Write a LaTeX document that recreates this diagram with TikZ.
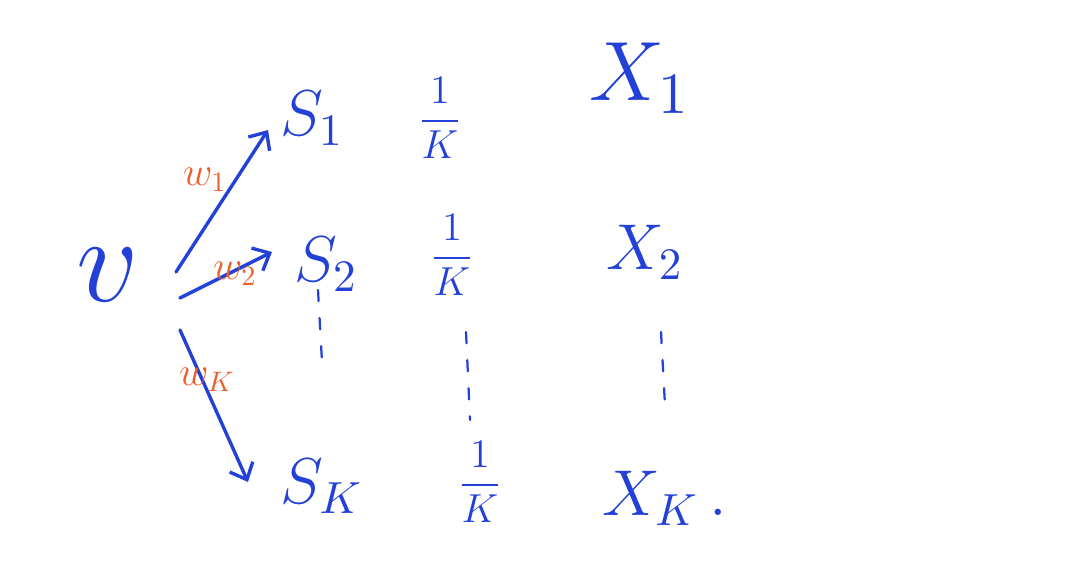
\documentclass[tikz,border=0pt]{standalone}
\usepackage{amsmath}
\usetikzlibrary{arrows.meta}
\definecolor{inkblue}{RGB}{35,65,215}
\definecolor{inkorange}{RGB}{235,95,45}
\begin{document}
\begin{tikzpicture}[x=0.025cm,y=-0.025cm,
  big/.style={text=inkblue,font=\Large,inner sep=0pt,scale=3.2},
  frac/.style={text=inkblue,font=\Large,inner sep=0pt,scale=2},
  wlab/.style={text=inkorange,font=\Large,inner sep=0pt,scale=2},
  weight/.style={draw=inkblue,line width=2.4pt,line cap=round,-{Straight Barb[length=10pt,width=18pt,line width=2.4pt]}},
  vdots/.style={draw=inkblue,line width=1.6pt,line cap=round,dash pattern=on 8pt off 12pt}]
\useasboundingbox (0,0) rectangle (1068,566);
% left node
\node[big,scale=1.9] (v) at (108,275) {$v$};
% column S
\node[big] (s1) at (312,118) {$S_1$};
\node[big] (s2) at (326,264) {$S_2$};
\node[big] (sK) at (322,486) {$S_K$};
% column 1/K
\node[frac] (f1) at (440,118) {$\dfrac{1}{K}$};
\node[frac] (f2) at (452,255) {$\dfrac{1}{K}$};
\node[frac] (fK) at (480,482) {$\dfrac{1}{K}$};
% column X
\node[big,scale=1.3] (x1) at (640,78) {$X_1$};
\node[big] (x2) at (645,252) {$X_2$};
\node[big] (xK) at (665,498) {$X_K\,.$};
% arrow ends
\coordinate (t1) at (176,272);
\coordinate (h1) at (268,130);
\coordinate (t2) at (180,298);
\coordinate (h2) at (272,252);
\coordinate (tK) at (180,330);
\coordinate (hK) at (248,482);
\draw[weight] (t1) -- (h1);
\draw[weight] (t2) -- (h2);
\draw[weight] (tK) -- (hK);
% weight labels
\node[wlab] (w1) at (205,180) {$w_1$};
\node[wlab] (w2) at (235,274) {$w_2$};
\node[wlab] (wK) at (207,380) {$w_K$};
% vertical dots
\coordinate (d1a) at (318,290);
\coordinate (d1b) at (322,362);
\coordinate (d2a) at (466,332);
\coordinate (d2b) at (470,420);
\coordinate (d3a) at (661,332);
\coordinate (d3b) at (665,405);
\draw[vdots] (d1a) -- (d1b);
\draw[vdots] (d2a) -- (d2b);
\draw[vdots] (d3a) -- (d3b);
\end{tikzpicture}
\end{document}
